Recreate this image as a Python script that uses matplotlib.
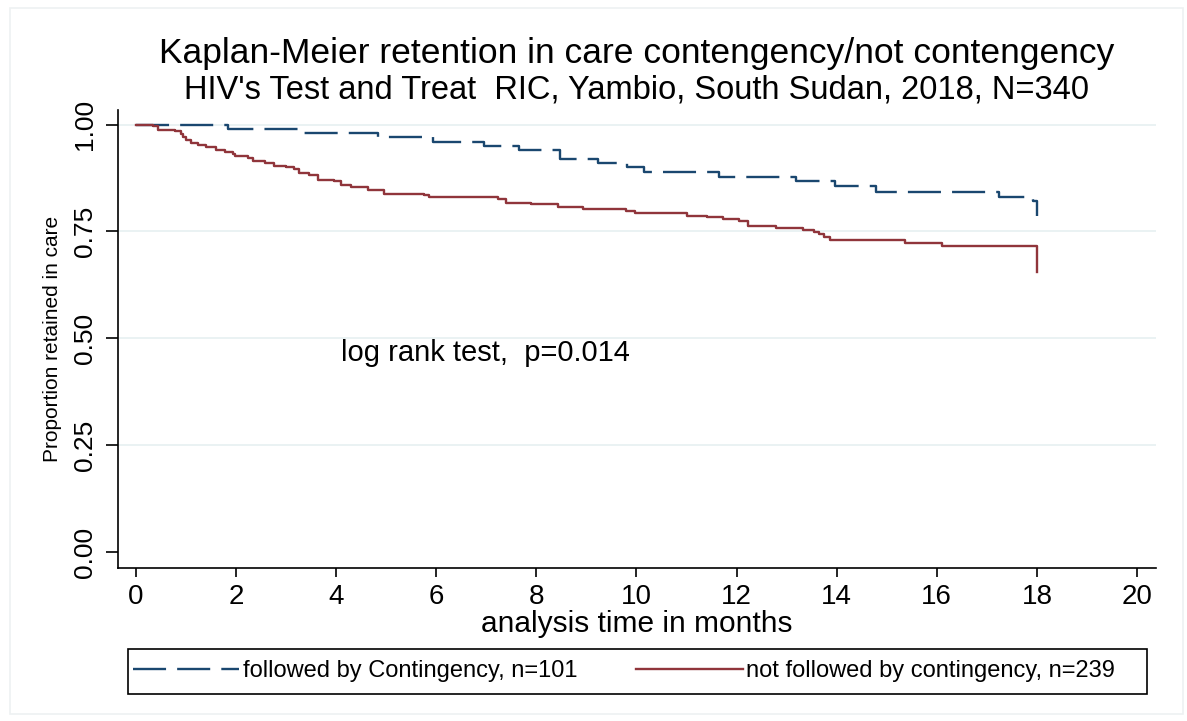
import matplotlib
matplotlib.use("Agg")
import matplotlib.pyplot as plt
from matplotlib.lines import Line2D
from matplotlib.patches import Rectangle

plt.rcParams['font.family'] = ['Liberation Sans', 'DejaVu Sans']

# Kaplan-Meier step estimates
blue_t = [0, 1.83, 3.23, 4.83, 5.93, 6.96, 7.66, 8.48, 9.24, 9.82, 10.15,
          11.64, 13.18, 13.96, 14.79, 17.25, 17.92, 18.0]
blue_s = [1.0, 0.990, 0.980, 0.970, 0.960, 0.950, 0.940, 0.920, 0.910, 0.900,
          0.890, 0.878, 0.867, 0.856, 0.843, 0.831, 0.820, 0.785]

red_t = [0, 0.33, 0.43, 0.77, 0.90, 0.93, 1.0, 1.10, 1.23, 1.40, 1.60, 1.77,
         1.93, 1.97, 2.23, 2.33, 2.57, 2.76, 3.0, 3.16, 3.26, 3.46, 3.63, 3.96,
         4.10, 4.30, 4.63, 4.96, 5.76, 5.86, 7.23, 7.39, 7.89, 8.43, 8.93, 9.79,
         9.97, 11.0, 11.4, 11.72, 12.04, 12.22, 12.79, 13.32, 13.54, 13.65,
         13.75, 13.86, 15.36, 16.10, 18.0]
red_s = [1.0, 0.996, 0.988, 0.984, 0.978, 0.971, 0.963, 0.957, 0.953, 0.947,
         0.940, 0.935, 0.931, 0.926, 0.922, 0.914, 0.909, 0.904, 0.900, 0.896,
         0.887, 0.881, 0.871, 0.867, 0.859, 0.854, 0.848, 0.838, 0.836, 0.830,
         0.826, 0.817, 0.813, 0.807, 0.802, 0.797, 0.792, 0.787, 0.784, 0.779,
         0.774, 0.762, 0.758, 0.753, 0.748, 0.743, 0.737, 0.729, 0.724, 0.717,
         0.656]

blue_label = 'followed by Contingency, n=101'
red_label = 'not followed by contingency, n=239'
x_ticks = [0, 2, 4, 6, 8, 10, 12, 14, 16, 18, 20]
y_ticks = [0.0, 0.25, 0.5, 0.75, 1.0]

BLUE = '#1a476f'
RED = '#90353b'
GRID = '#eaf2f3'
W, H = 1187, 721

fig = plt.figure(figsize=(W / 100, H / 100), dpi=100)
# faint outer graph border
fig.patches.append(Rectangle((10 / W, 1 - 714 / H), 1173 / W, 706 / H,
                             transform=fig.transFigure, fill=False,
                             edgecolor='#eef1f2', lw=1.2))

ax = fig.add_axes([118 / W, 1 - 568 / H, 1038 / W, 458 / H])
for y in y_ticks[1:]:
    ax.axhline(y, color=GRID, lw=1.4, zorder=0)

ax.plot(blue_t, blue_s, drawstyle='steps-post', color=BLUE, lw=1.7,
        dashes=(14, 4.7), label=blue_label)
ax.plot(red_t, red_s, drawstyle='steps-post', color=RED, lw=1.7,
        label=red_label)

ax.set_xlim(-0.36, 20.38)
ax.set_ylim(-0.0374, 1.034)
ax.set_xticks(x_ticks)
ax.set_yticks(y_ticks)
ax.set_yticklabels([f'{v:.2f}' for v in y_ticks], rotation=90, va='center')
ax.tick_params(axis='x', direction='out', length=6.5, width=1.2, pad=5,
               labelsize=20)
ax.tick_params(axis='y', direction='out', length=9, width=1.2, pad=6,
               labelsize=19)
for s in ['top', 'right']:
    ax.spines[s].set_visible(False)
for s in ['left', 'bottom']:
    ax.spines[s].set_linewidth(1.2)

ax.set_xlabel('analysis time in months', fontsize=21.5, labelpad=0)
ax.set_ylabel('Proportion retained in care', fontsize=15, labelpad=8)

ax.text(4.1, 0.465, 'log rank test,  p=0.014', fontsize=21, va='center')

fig.text(0.536, 1 - 53 / H, 'Kaplan-Meier retention in care contengency/not contengency',
         ha='center', va='center', fontsize=25.5)
fig.text(0.536, 1 - 90 / H, "HIV's Test and Treat  RIC, Yambio, South Sudan, 2018, N=340",
         ha='center', va='center', fontsize=23.5)

# legend box drawn separately so the margins match the original
fig.patches.append(Rectangle((128 / W, 1 - 694 / H), 1019 / W, 45 / H,
                             transform=fig.transFigure, fill=False,
                             edgecolor='black', lw=1.2))
handles = [Line2D([], [], color=BLUE, lw=1.7, dashes=(14, 4.7)),
           Line2D([], [], color=RED, lw=1.7)]
fig.legend(handles, [blue_label, red_label], ncol=2,
           loc='center left', bbox_to_anchor=(133 / W, 1 - 671.5 / H),
           fontsize=17, frameon=False, handlelength=4.5, handletextpad=0.15,
           columnspacing=2.5, borderpad=0, borderaxespad=0)

fig.savefig('out.png', dpi=100)
